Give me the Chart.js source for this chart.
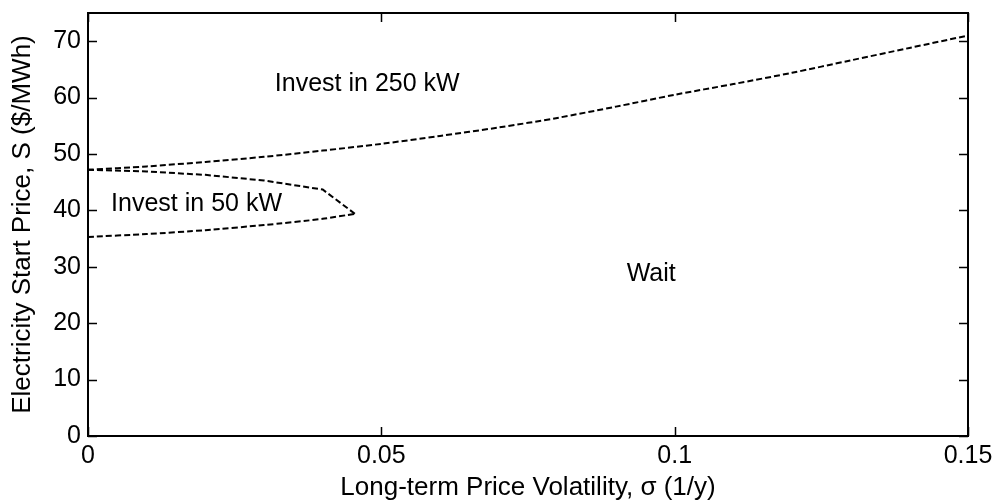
<!DOCTYPE html>
<html>
<head>
<meta charset="utf-8">
<script src="https://cdn.jsdelivr.net/npm/chart.js@4/dist/chart.umd.min.js"></script>
<style>
    html, body { margin: 0; padding: 0; background: #fff; }
    #wrap { width: 996px; height: 503px; }
</style>
</head>
<body>
<div id="wrap"><canvas id="chart" width="996" height="503"></canvas></div>
<script>
// boundary between "Invest in 250 kW" and the rest
var upperX = [0, 0.01, 0.02, 0.03, 0.04, 0.05, 0.06, 0.07, 0.08, 0.09, 0.10, 0.11, 0.12, 0.13, 0.14, 0.15];
var upperY = [47.2, 47.8, 48.6, 49.5, 50.6, 51.8, 53.2, 54.7, 56.4, 58.4, 60.5, 62.4, 64.4, 66.6, 68.8, 71.0];

// upper edge of the "Invest in 50 kW" region
var midX = [0, 0.01, 0.02, 0.03, 0.04, 0.0455];
var midY = [47.2, 46.9, 46.3, 45.3, 43.7, 39.4];

// lower edge of the "Invest in 50 kW" region
var lowX = [0, 0.01, 0.02, 0.03, 0.04, 0.0455];
var lowY = [35.3, 35.8, 36.5, 37.4, 38.5, 39.4];

var xTicks = [0, 0.05, 0.1, 0.15];
var yTicks = [0, 10, 20, 30, 40, 50, 60, 70];

// region labels (text, x, y in data units)
var labelText = ['Invest in 250 kW', 'Invest in 50 kW', 'Wait'];
var labelX = [0.0476, 0.0185, 0.096];
var labelY = [62.4, 41.1, 28.7];

var FONT = '"Liberation Sans", Arial, Helvetica, sans-serif';

function toPoints(xs, ys)
{
    var pts = [];
    for (var i = 0; i < xs.length; i++) {
        pts.push({x: xs[i], y: ys[i]});
    }
    return pts;
}

function dashed(xs, ys, tension)
{
    return {
        data: toPoints(xs, ys),
        showLine: true,
        borderColor: '#000',
        borderWidth: 2,
        borderDash: [6, 3],
        pointRadius: 0,
        tension: tension,
        fill: false
    };
}

// frame, inward ticks and the region labels
var framePlugin = {
    id: 'frame',
    afterDatasetsDraw: function(chart) {
        var ctx = chart.ctx;
        var a = chart.chartArea;
        var xs = chart.scales.x;
        var ys = chart.scales.y;
        ctx.save();
        ctx.strokeStyle = '#000';
        ctx.lineWidth = 2;
        ctx.strokeRect(a.left, a.top, a.right - a.left, a.bottom - a.top);
        ctx.lineWidth = 1.5;
        ctx.beginPath();
        for (var i = 0; i < xTicks.length; i++) {
            var px = Math.round(xs.getPixelForValue(xTicks[i])) + 0.5;
            ctx.moveTo(px, a.bottom); ctx.lineTo(px, a.bottom - 9);
            ctx.moveTo(px, a.top); ctx.lineTo(px, a.top + 9);
        }
        for (var j = 0; j < yTicks.length; j++) {
            var py = Math.round(ys.getPixelForValue(yTicks[j])) + 0.5;
            ctx.moveTo(a.left, py); ctx.lineTo(a.left + 9, py);
            ctx.moveTo(a.right, py); ctx.lineTo(a.right - 9, py);
        }
        ctx.stroke();

        ctx.fillStyle = '#000';
        ctx.font = '25px ' + FONT;
        ctx.textAlign = 'center';
        ctx.textBaseline = 'middle';
        for (var k = 0; k < labelText.length; k++) {
            ctx.fillText(labelText[k], xs.getPixelForValue(labelX[k]), ys.getPixelForValue(labelY[k]));
        }
        ctx.restore();
    }
};

Chart.defaults.font.family = FONT;
Chart.defaults.color = '#000';

var chart = new Chart(document.getElementById('chart'), {
    type: 'scatter',
    data: {
        datasets: [dashed(upperX, upperY, 0.3), dashed(midX, midY, 0), dashed(lowX, lowY, 0.2)]
    },
    plugins: [framePlugin],
    options: {
        responsive: false,
        animation: false,
        layout: { padding: { top: 13, right: 28, left: 0, bottom: 0 } },
        plugins: {
            legend: { display: false },
            tooltip: { enabled: false }
        },
        scales: {
            x: {
                type: 'linear',
                min: 0,
                max: 0.15,
                afterBuildTicks: function(scale) {
                    scale.ticks = xTicks.map(function(v) { return {value: v}; });
                },
                afterFit: function(scale) {
                    scale.height = 67;
                    scale.paddingLeft = 0;
                    scale.paddingRight = 0;
                },
                grid: { display: false, drawTicks: false },
                border: { display: false },
                ticks: {
                    padding: 5,
                    font: { size: 25 },
                    callback: function(v) { return String(+v.toFixed(2)); }
                },
                title: {
                    display: true,
                    text: 'Long-term Price Volatility, σ (1/y)',
                    font: { size: 26 },
                    padding: { top: 0, bottom: 0 }
                }
            },
            y: {
                type: 'linear',
                min: 0,
                max: 75,
                afterBuildTicks: function(scale) {
                    scale.ticks = yTicks.map(function(v) { return {value: v}; });
                },
                afterFit: function(scale) {
                    scale.width = 88;
                    scale.paddingTop = 0;
                    scale.paddingBottom = 0;
                },
                grid: { display: false, drawTicks: false },
                border: { display: false },
                ticks: {
                    padding: 7,
                    font: { size: 25 }
                },
                title: {
                    display: true,
                    text: 'Electricity Start Price, S ($/MWh)',
                    font: { size: 26 },
                    padding: { top: 7, bottom: 0 }
                }
            }
        }
    }
});
</script>
</body>
</html>
